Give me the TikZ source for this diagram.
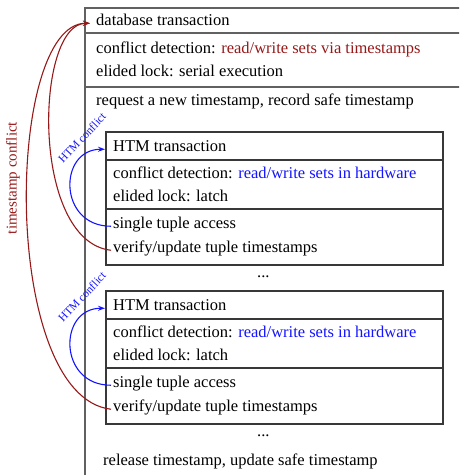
\documentclass[tikz,border=0pt]{standalone}
\usepackage{fontspec}
\setmainfont{Liberation Serif}
\usetikzlibrary{arrows.meta}
\definecolor{tsred}{RGB}{150,25,25}
\definecolor{htmblue}{RGB}{20,20,255}
\begin{document}
\begin{tikzpicture}[x=1pt,y=-1pt,
  txt/.style={anchor=base west, inner sep=2pt, text height=0.7em, text depth=0.25em, font=\fontsize{16.5}{20}\selectfont},
  outerline/.style={draw=black!62, line width=1.3pt},
  innerline/.style={draw=black!78, line width=1.2pt},
  tsarrow/.style={draw=tsred, line width=1.1pt, -{Stealth[length=7pt,width=5pt]}},
  htmarrow/.style={draw=htmblue, line width=1.1pt, -{Stealth[length=7pt,width=5pt]}},
  htmlabel/.style={font=\fontsize{11.5}{13}\selectfont, text=htmblue, rotate=47, inner sep=0pt},
  tslabel/.style={font=\fontsize{15}{17}\selectfont, text=tsred, rotate=90, inner sep=0pt}
]
\clip (0,0) rectangle (459,475);
% outer database transaction box
\draw[outerline] (85,8) rectangle (475,495);
\draw[outerline] (85,33) -- (475,33);
\draw[outerline] (85,87) -- (475,87);
\node[txt] (db) at (94,25.5) {database transaction};
\node[txt] (cd) at (94,53.5) {conflict detection: \textcolor{tsred}{read/write sets via timestamps}};
\node[txt] (el) at (94,76.5) {elided lock: serial execution};
\node[txt] (rq) at (94,105.5) {request a new timestamp, record safe timestamp};
% HTM transaction boxes
\foreach \i/\dy in {1/0,2/159}{
  \draw[innerline] (106,132+\dy) rectangle (443,265+\dy);
  \draw[innerline] (106,160+\dy) -- (443,160+\dy);
  \draw[innerline] (106,209+\dy) -- (443,209+\dy);
  \node[txt] (h\i) at (111,151.5+\dy) {HTM transaction};
  \node[txt] (c\i) at (111,178.5+\dy) {conflict detection: \textcolor{htmblue}{read/write sets in hardware}};
  \node[txt] (e\i) at (111,201.5+\dy) {elided lock: latch};
  \node[txt] (s\i) at (111,228.5+\dy) {single tuple access};
  \node[txt] (v\i) at (111,252.5+\dy) {verify/update tuple timestamps};
  \node[txt] (d\i) at (255,277+\dy) {...};
  \draw[htmarrow] (s\i.west) .. controls +(-53,0) and +(-47,0) .. ([xshift=-6pt]h\i.west);
  \node[htmlabel] (hl\i) at (82,138+\dy) {HTM conflict};
}
\node[txt] (rl) at (101,465.5) {release timestamp, update safe timestamp};
% timestamp conflict arrows
\draw[tsarrow] (v1.west) .. controls +(-81,-9) and +(-55,0) .. ([xshift=-4pt]db.west);
\draw[tsarrow] (v2.west) .. controls +(-111,-13) and +(-85,0) .. ([xshift=-4pt]db.west);
\node[tslabel] (tl) at (13,178) {timestamp conflict};
\end{tikzpicture}
\end{document}
